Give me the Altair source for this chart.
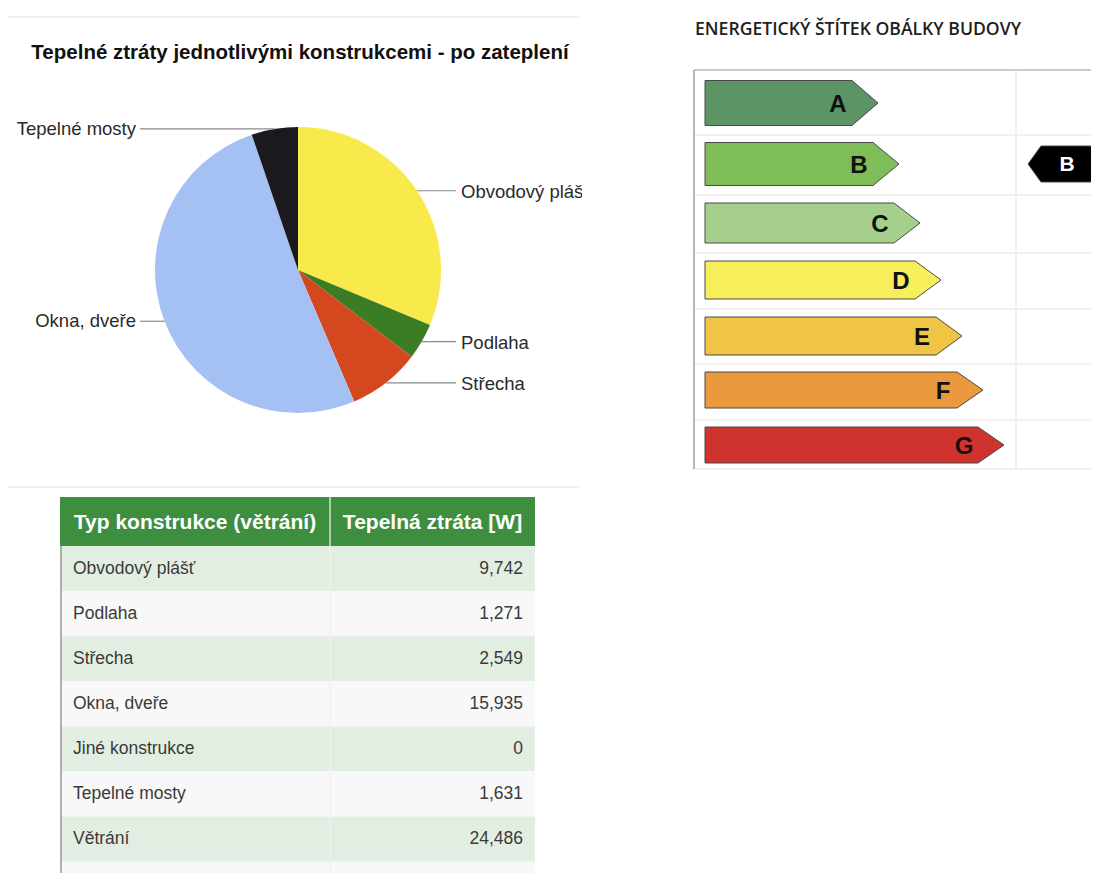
import math
import altair as alt
import pandas as pd

# ---------------- data ----------------
pie_title = "Tepelné ztráty jednotlivými konstrukcemi - po zateplení"
pie_categories = ["Obvodový plášť", "Podlaha", "Střecha", "Okna, dveře", "Jiné konstrukce", "Tepelné mosty"]
pie_values = [9742, 1271, 2549, 15935, 0, 1631]
pie_colors = ["#f9ea4c", "#3b7d25", "#d4481f", "#a5c1f4", "#9e9e9e", "#1b191d"]

table_headers = ["Typ konstrukce (větrání)", "Tepelná ztráta [W]"]
table_categories = ["Obvodový plášť", "Podlaha", "Střecha", "Okna, dveře", "Jiné konstrukce",
                    "Tepelné mosty", "Větrání", "Celkem"]
table_values = [9742, 1271, 2549, 15935, 0, 1631, 24486, 55614]

energy_title = "ENERGETICKÝ ŠTÍTEK OBÁLKY BUDOVY"
energy_classes = ["A", "B", "C", "D", "E", "F", "G"]
energy_colors = ["#5d9466", "#7fbd58", "#a6cf8c", "#f6ee5a", "#f0c445", "#ea993d", "#cf332d"]
building_class = "B"

# ---------------- layout ----------------
W, H = 1083, 865
OFF = 8
XS = alt.Scale(domain=[OFF, OFF + W], nice=False, zero=False)
YS = alt.Scale(domain=[OFF, OFF + H], nice=False, zero=False, reverse=True)
FONT = "Liberation Sans"


def X(f):
    return alt.X(f, type="quantitative", scale=XS, axis=None)


def Y(f):
    return alt.Y(f, type="quantitative", scale=YS, axis=None, stack=None)


def rects(rows, **kw):
    df = pd.DataFrame(rows, columns=["x", "x2", "y", "y2", "fill"])
    return alt.Chart(df).mark_rect(**kw).encode(
        x=X("x"), x2=alt.X2("x2"), y=Y("y"), y2=alt.Y2("y2"),
        fill=alt.Fill("fill:N", scale=None))


def segs(rows, color, width=1):
    df = pd.DataFrame(rows, columns=["x", "x2", "y", "y2"])
    return alt.Chart(df).mark_rule(color=color, strokeWidth=width).encode(
        x=X("x"), x2=alt.X2("x2"), y=Y("y"), y2=alt.Y2("y2"))


def texts(rows, **kw):
    df = pd.DataFrame(rows, columns=["x", "y", "t"])
    return alt.Chart(df).mark_text(font=kw.pop("font", FONT), **kw).encode(
        x=X("x"), y=Y("y"), text="t:N")


layers = []

# ---------------- pie section ----------------
CX, CY, R = 298, 270, 143
layers.append(segs([(OFF, 580, 17, 17), (OFF, 580, 487, 487)], "#ececec", 1.5))
layers.append(texts([(300, 53, pie_title)], fontSize=20.5, fontWeight="bold", color="#111",
                    align="center", baseline="middle"))

pie_df = pd.DataFrame({"cat": pie_categories, "value": pie_values, "color": pie_colors,
                       "idx": list(range(len(pie_values)))})
layers.append(alt.Chart(pie_df).mark_arc(radius=R).encode(
    theta=alt.Theta("value:Q", stack=True),
    fill=alt.Fill("color:N", scale=None),
    order=alt.Order("idx:Q"),
    x=alt.XDatum(CX, type="quantitative", scale=XS, axis=None),
    y=alt.YDatum(CY, type="quantitative", scale=YS, axis=None),
))

total = sum(pie_values)
cum = 0
line_pts, lab_right, lab_left = [], [], []
for cat, v in zip(pie_categories, pie_values):
    mid = (cum + v / 2) / total * 2 * math.pi
    cum += v
    if v == 0:
        continue
    ax, ay = CX + R * math.sin(mid), CY - R * math.cos(mid)
    if math.sin(mid) >= 0:
        line_pts += [(cat, ax, ay, 0), (cat, 456, ay, 1)]
        lab_right.append((461, ay + 1, cat))
    else:
        line_pts += [(cat, ax, ay, 0), (cat, 140, ay, 1)]
        lab_left.append((136, ay, cat))
ldf = pd.DataFrame(line_pts, columns=["cat", "x", "y", "o"])
layers.append(alt.Chart(ldf).mark_line(color="#8a8a8a", strokeWidth=1.2).encode(
    x=X("x"), y=Y("y"), detail="cat:N", order="o:Q"))
layers.append(texts(lab_right, fontSize=18.5, color="#2a2a2a", align="left", baseline="middle"))
layers.append(texts(lab_left, fontSize=18.5, color="#2a2a2a", align="right", baseline="middle"))
# the screenshot crops the right label
layers.append(rects([(582, 690, 170, 212, "#ffffff")]))

# ---------------- table section ----------------
TX0, TX1, TX2 = 60, 330, 535
HY0, HY1 = 497, 546
RH = 45.1
trows = [(TX0, TX2, HY0, HY1, "#3e8e3f")]
for i in range(len(table_categories)):
    y0 = HY1 + i * RH
    trows.append((TX0, TX2, y0, y0 + RH, "#e3eee3" if i % 2 == 0 else "#f8f8f8"))
layers.append(rects(trows))
layers.append(segs([(TX1, TX1, HY0, HY1)], "#cfe3cf", 1.5))
layers.append(segs([(TX1, TX1, HY1, OFF + H)], "#f0f0f0", 1.5))
layers.append(segs([(TX0 + 1, TX0 + 1, HY1, OFF + H)], "#9a9a9a", 1.5))
layers.append(texts([((TX0 + TX1) / 2, (HY0 + HY1) / 2 + 1, table_headers[0]),
                     ((TX1 + TX2) / 2, (HY0 + HY1) / 2 + 1, table_headers[1])],
                    fontSize=21, fontWeight="bold", color="#ffffff", align="center",
                    baseline="middle"))
cat_rows, val_rows = [], []
for i, (c, v) in enumerate(zip(table_categories, table_values)):
    yc = HY1 + i * RH + RH / 2
    if c == "Celkem":
        cat_rows.append((95, yc, c))
    else:
        cat_rows.append((73, yc, c))
    val_rows.append((523, yc, f"{v:,}"))
layers.append(texts(cat_rows, fontSize=17.5, color="#3a3a3a", align="left", baseline="middle"))
layers.append(texts(val_rows, fontSize=17.5, color="#3a3a3a", align="right", baseline="middle"))

# ---------------- energy label section ----------------
EX0, EXR, EXV = 694, 1100, 1016
ETOP, EBOT = 70, 469
row_edges = [70, 135, 195, 253, 309, 364, 420, 469]
layers.append(texts([(EX0 + 1, 30, energy_title)], font="Open Sans", fontSize=17.6, fontWeight=600,
                    color="#1e1e1e", align="left", baseline="middle"))
layers.append(segs([(EX0, EXR, e, e) for e in row_edges[1:]], "#e6e6e6", 1.2))
layers.append(segs([(EXV, EXV, ETOP, EBOT)], "#e8e8e8", 1.2))
layers.append(segs([(EX0, EXR, ETOP, ETOP)], "#b8b8b8", 1.5))
layers.append(segs([(EX0, EX0, ETOP, EBOT)], "#9aa0a0", 1.5))

centers = [103, 164, 223, 280, 336, 390, 445]
halfs = [22.5, 21.5, 20, 19, 19, 18, 18]
AX0, TIP0, TIPSTEP, TIPLEN = 705, 878, 21, 26
apts, letters = [], []
for i, (cls, col) in enumerate(zip(energy_classes, energy_colors)):
    tip = TIP0 + i * TIPSTEP
    body = tip - TIPLEN
    yc, h = centers[i], halfs[i]
    apts += [(cls, col, AX0, yc - h, yc + h), (cls, col, body, yc - h, yc + h),
             (cls, col, tip, yc, yc)]
    letters.append((body - 14, yc + 2, cls))
bi = energy_classes.index(building_class)
yb = centers[bi]
apts += [("ptr", "#000000", 1028, yb, yb), ("ptr", "#000000", 1041, yb - 18, yb + 18),
         ("ptr", "#000000", 1100, yb - 18, yb + 18)]
adf = pd.DataFrame(apts, columns=["cls", "color", "x", "y", "y2"])
layers.append(alt.Chart(adf).mark_area(orient="vertical", stroke="#4a4a4a", strokeWidth=1,
                                       opacity=1, interpolate="linear").encode(
    x=X("x"), y=Y("y"), y2=alt.Y2("y2"), detail="cls:N", fill=alt.Fill("color:N", scale=None)))
layers.append(texts(letters, fontSize=24, fontWeight="bold", color="#111", align="center",
                    baseline="middle"))
layers.append(texts([(1067, yb + 1, building_class)], fontSize=21, fontWeight="bold",
                    color="#ffffff", align="center", baseline="middle"))

chart = alt.layer(*layers).properties(
    width=W, height=H, padding=0, autosize=alt.AutoSizeParams(type="none")
).configure_view(stroke=None)

chart.save("out.html", embed_options={"renderer": "svg", "actions": False})
